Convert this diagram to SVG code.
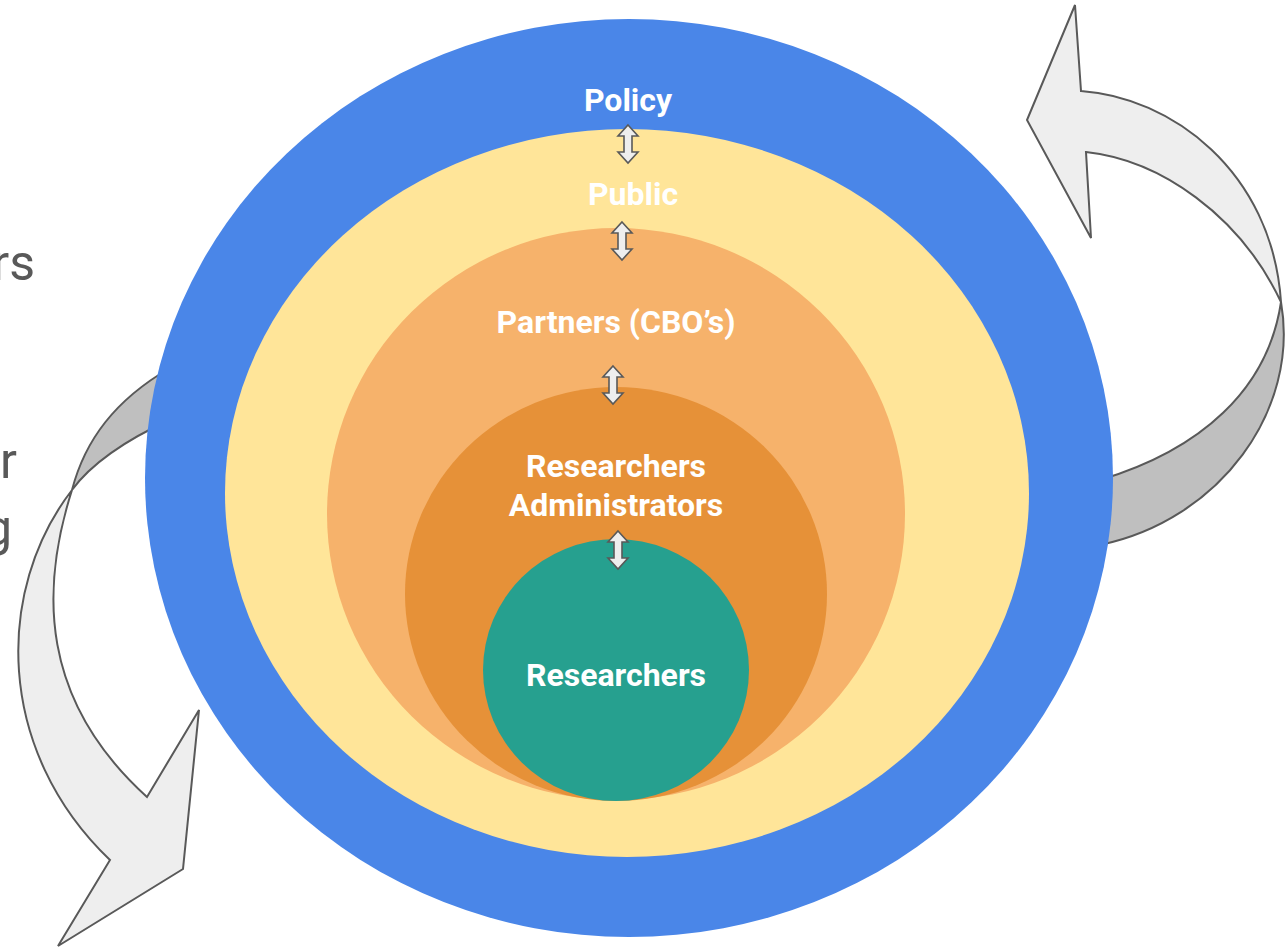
<svg xmlns="http://www.w3.org/2000/svg" width="1288" height="949" viewBox="0 0 1288 949">
<defs>
<style>
.lbl{font-family:Roboto,"Liberation Sans",sans-serif;font-weight:bold;font-size:32px;fill:#ffffff;text-anchor:middle}
.frag{font-family:Roboto,"Liberation Sans",sans-serif;font-size:50px;fill:#595959;text-anchor:end}
.band{stroke:#595959;stroke-width:2;stroke-linejoin:miter}
.light{fill:#eeeeee}
.dark{fill:#bfbfbf}
.dbl{fill:#eeeeee;stroke:#595959;stroke-width:1.6;stroke-linejoin:miter}
</style>
<path id="dblarrow" d="M0,-19 L10,-8 L4,-8 L4,8 L10,8 L0,19 L-10,8 L-4,8 L-4,-8 L-10,-8 Z"/>
</defs>
<rect width="1288" height="949" fill="#ffffff"/>
<g id="text-fragments">
<text class="frag" x="35" y="280">rs</text>
<text class="frag" x="17" y="478">r</text>
<text class="frag" x="12" y="545">g</text>
</g>
<g id="connectors">
<g id="cycle-arrow-right">
<path class="band dark" d="M1281,302 C1300,410 1220,520 1100,545 L1100,480 C1200,450 1268,390 1281,302 Z"/>
<path class="band light" d="M1081,91 C1170,97 1272,170 1281,302 C1240,215 1160,160 1086,152 L1091,238 L1027,120 L1075,5 Z"/>
</g>
<g id="cycle-arrow-left">
<path class="band dark" d="M72,490 C85,440 115,400 170,368 L170,420 C125,440 90,465 72,490 Z"/>
<path class="band light" d="M72,490 C-5,590 -5,750 110,860 L58,946 L183,869 L199,710 L147,797 C40,700 40,590 72,490 Z"/>
</g>
</g>
<g id="node-policy">
<ellipse cx="629" cy="478" rx="484" ry="459" fill="#4a86e8"/>
<text class="lbl" x="628" y="111">Policy</text>
</g>
<g id="node-public">
<ellipse cx="627" cy="493" rx="402" ry="364" fill="#ffe599"/>
<text class="lbl" x="633" y="205">Public</text>
</g>
<g id="node-partners">
<ellipse cx="616" cy="514" rx="289" ry="286" fill="#f6b26b"/>
<text class="lbl" x="616" y="333">Partners (CBO’s)</text>
</g>
<g id="node-researchers-admin">
<ellipse cx="616" cy="594" rx="211" ry="207" fill="#e69138"/>
<text class="lbl" x="616" y="477">Researchers</text>
<text class="lbl" x="616" y="516">Administrators</text>
</g>
<g id="node-researchers">
<ellipse cx="616" cy="670" rx="133" ry="131" fill="#26a08f"/>
<text class="lbl" x="616" y="686">Researchers</text>
</g>
<g id="links">
<use href="#dblarrow" class="dbl" transform="translate(628,144)"/>
<use href="#dblarrow" class="dbl" transform="translate(622,241)"/>
<use href="#dblarrow" class="dbl" transform="translate(613,385)"/>
<use href="#dblarrow" class="dbl" transform="translate(618,550)"/>
</g>
</svg>
